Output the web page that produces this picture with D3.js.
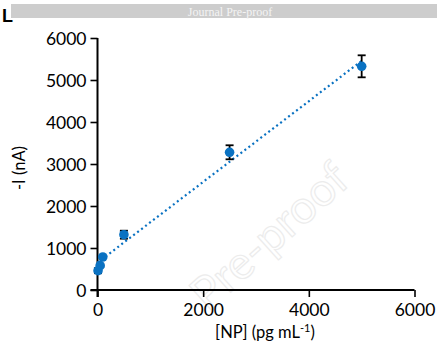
<!DOCTYPE html>
<html>
<head>
<meta charset="utf-8">
<script src="https://cdn.jsdelivr.net/npm/d3@7/dist/d3.min.js"></script>
<style>
  html, body { margin: 0; padding: 0; background: #fff; }
  svg { display: block; }
</style>
</head>
<body>
<svg id="chart" width="439" height="351"></svg>
<script>
// Calibration data: nanoparticle concentration vs. current
const concentrations = [10, 50, 100, 500, 2500, 5000];   // pg mL-1
const currents       = [460, 580, 786, 1317, 3279, 5326]; // -I (nA)
const errors         = [60, 30, 20, 95, 167, 262];        // ± nA
const xTicks = [0, 2000, 4000, 6000];
const yTicks = [0, 1000, 2000, 3000, 4000, 5000, 6000];

const W = 439, H = 351;
const margin = { left: 97.5, right: 24.5, top: 38, bottom: 61 };
const svg = d3.select("#chart");
const font = "Lato, 'Noto Sans', sans-serif";
const blue = "#0a72c2";

// Header band
svg.append("rect").attr("x", 11).attr("y", 4).attr("width", 426).attr("height", 14).attr("fill", "#cdcdcd");
svg.append("text").attr("x", 230).attr("y", 15.5).attr("text-anchor", "middle")
  .attr("font-family", "'Liberation Serif', 'DejaVu Serif', serif").attr("font-size", 12)
  .attr("fill", "#f4f4f4").text("Journal Pre-proof");
svg.append("text").attr("x", 2).attr("y", 22).attr("font-family", "'Liberation Sans', Arial, sans-serif")
  .attr("font-weight", "bold").attr("font-size", 18).attr("fill", "#000").text("L");

const x = d3.scaleLinear().domain([0, 6000]).range([margin.left, W - margin.right]);
const y = d3.scaleLinear().domain([0, 6000]).range([H - margin.bottom, margin.top]);

// Watermark
svg.append("text")
  .attr("transform", "translate(280,248) rotate(-42)")
  .attr("text-anchor", "middle")
  .attr("font-family", font).attr("font-size", 46)
  .attr("fill", "none").attr("stroke", "#ececec").attr("stroke-width", 1.2)
  .text("Pre-proof");

// Axes
const xAxis = svg.append("g").attr("transform", `translate(0,${y(0)})`)
  .call(d3.axisBottom(x).tickValues(xTicks).tickSize(7).tickFormat(d3.format("d")));
const yAxis = svg.append("g").attr("transform", `translate(${x(0)},0)`)
  .call(d3.axisLeft(y).tickValues(yTicks).tickSize(7).tickFormat(d3.format("d")));
[xAxis, yAxis].forEach(g => {
  g.select(".domain").attr("stroke", "#000").attr("stroke-width", 2);
  g.selectAll(".tick line").attr("stroke", "#000").attr("stroke-width", 1.6);
  g.selectAll(".tick text").attr("font-family", font).attr("font-size", 17.5).attr("fill", "#000");
});
xAxis.select(".domain").attr("d", `M${x(0) - 7},0H${x(6000)}`);
xAxis.selectAll(".tick text").attr("dy", "0.9em");
yAxis.selectAll(".tick text").attr("x", -11).attr("dy", "0.35em");
yAxis.select(".domain").attr("d", `M0,${y(6000)}V${y(0) + 7}`);

// Axis titles
svg.append("text").attr("transform", `translate(25,${(y(0) + y(6000)) / 2 + 4}) rotate(-90)`)
  .attr("text-anchor", "middle").attr("font-family", font).attr("font-size", 16.5).attr("fill", "#000")
  .text("-I (nA)");
const xt = svg.append("text").attr("x", 265).attr("y", 338).attr("text-anchor", "middle")
  .attr("font-family", font).attr("font-size", 16.5).attr("fill", "#000");
xt.append("tspan").text("[NP] (pg mL");
xt.append("tspan").attr("font-size", 11).attr("dy", -6).text("-1");
xt.append("tspan").attr("dy", 6).text(")");

// Linear trendline (least squares)
const pts = concentrations.map((c, i) => [c, currents[i]]);
const mx = d3.mean(pts, d => d[0]), my = d3.mean(pts, d => d[1]);
const slope = d3.sum(pts, d => (d[0] - mx) * (d[1] - my)) / d3.sum(pts, d => (d[0] - mx) ** 2);
const intercept = my - slope * mx;
const xr = [0, d3.max(concentrations)];
svg.append("line")
  .attr("x1", x(xr[0])).attr("y1", y(intercept + slope * xr[0]))
  .attr("x2", x(xr[1])).attr("y2", y(intercept + slope * xr[1]))
  .attr("stroke", blue).attr("stroke-width", 2.2).attr("stroke-dasharray", "2,3");

// Error bars
const eb = svg.append("g").attr("stroke", "#000").attr("stroke-width", 1.8);
pts.forEach((d, i) => {
  const cx = x(d[0]), top = y(d[1] + errors[i]), bot = y(d[1] - errors[i]);
  eb.append("line").attr("x1", cx).attr("x2", cx).attr("y1", top).attr("y2", bot);
  eb.append("line").attr("x1", cx - 4).attr("x2", cx + 4).attr("y1", top).attr("y2", top);
  eb.append("line").attr("x1", cx - 4).attr("x2", cx + 4).attr("y1", bot).attr("y2", bot);
});

// Points
svg.append("g").selectAll("circle").data(pts).join("circle")
  .attr("cx", d => x(d[0])).attr("cy", d => y(d[1])).attr("r", 4.8)
  .attr("fill", blue);
</script>
</body>
</html>
